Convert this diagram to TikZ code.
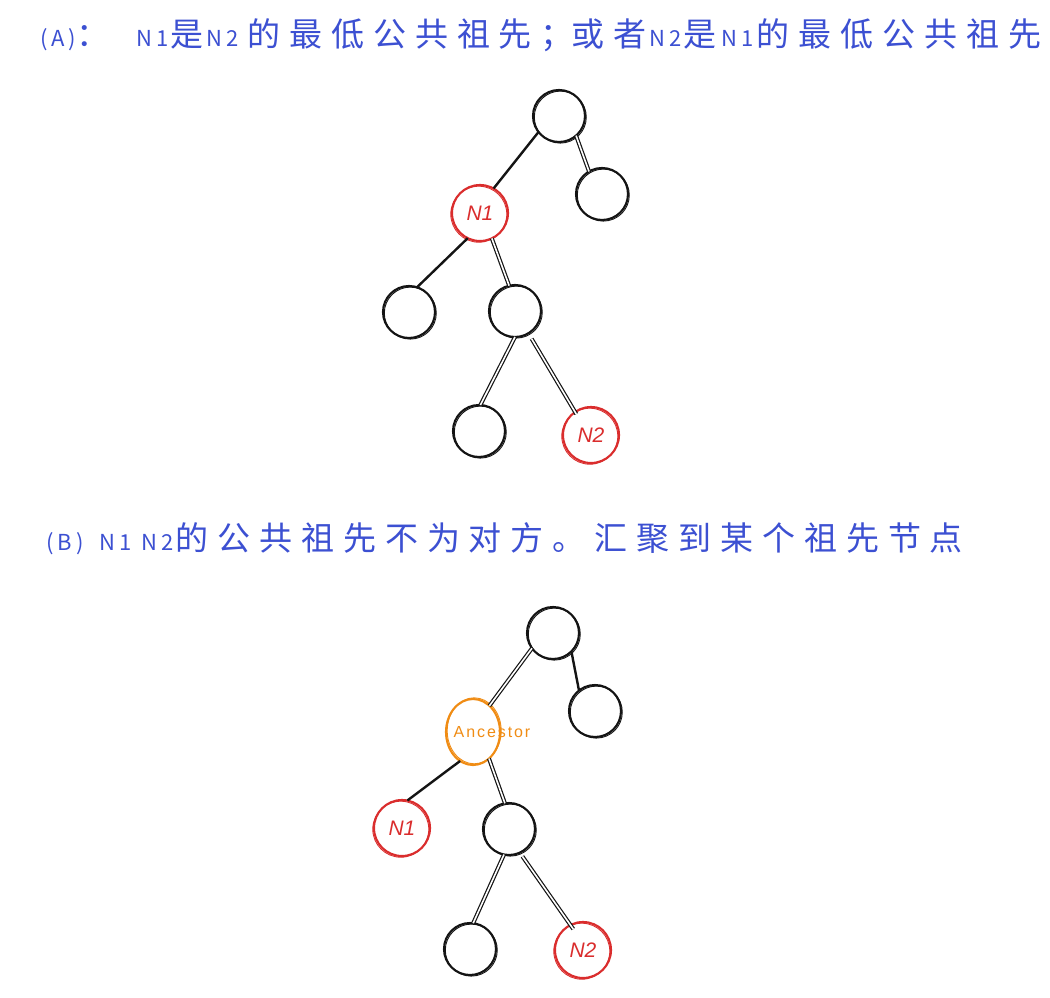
\documentclass[tikz,border=0pt]{standalone}
\usepackage{fontspec}
\usetikzlibrary{shapes.geometric}
\newfontfamily\cjk[LetterSpace=27]{Noto Sans CJK SC}
\newfontfamily\lat[LetterSpace=18]{Noto Sans CJK SC}
\newfontfamily\hand{Liberation Sans}
\newfontfamily\handsp[LetterSpace=12]{Liberation Sans}
\newcommand{\CJ}[1]{{\fontsize{33}{33}\selectfont\cjk #1}}
\newcommand{\LT}[1]{{\fontsize{22}{22}\selectfont\lat #1}}
\definecolor{tblue}{RGB}{60,80,210}
\definecolor{nred}{RGB}{218,45,45}
\definecolor{norange}{RGB}{240,140,20}
\definecolor{ink}{RGB}{20,20,20}
\tikzset{
  tnode/.style={circle, draw=ink, line width=2.1pt, minimum size=52pt, inner sep=0pt, outer sep=0pt,
    postaction={draw=ink, line width=0.9pt, transform canvas={xshift=1.3pt, yshift=-1.1pt}}},
  rednode/.style={circle, draw=nred, line width=2.1pt, minimum size=56pt, inner sep=0pt, outer sep=0pt, text=nred,
    font=\fontsize{21}{21}\selectfont\hand\itshape,
    postaction={draw=nred, line width=0.9pt, transform canvas={xshift=-1.2pt, yshift=-1.2pt}}},
  ancnode/.style={ellipse, draw=norange, line width=2.1pt, minimum width=54pt, minimum height=66pt, inner sep=0pt, outer sep=0pt,
    postaction={draw=norange, line width=0.9pt, transform canvas={xshift=1.2pt, yshift=1.2pt}}},
  anctext/.style={text=norange, font=\fontsize{16}{16}\selectfont\handsp, inner sep=0pt},
  single/.style={draw=ink, line width=2.4pt},
  twin/.style={draw=ink, line width=1.2pt, double=white, double distance=1.6pt},
  title/.style={text=tblue, anchor=base west, inner sep=0pt},
}
\begin{document}
\begin{tikzpicture}[x=1pt,y=-1pt]
\fill[white] (0,0) rectangle (1050,998);
\useasboundingbox (0,0) rectangle (1050,998);

% titles
\node[title] (ta) at (40,47) {\LT{(A)}\CJ{：}\hspace{27pt}\LT{N1}\hspace{2pt}\CJ{是}\hspace{3pt}\LT{N2}\hspace{9pt}\CJ{的最低公共祖先；}\hspace{-2pt}\CJ{或者}\hspace{3pt}\LT{N2}\hspace{2pt}\CJ{是}\hspace{5pt}\LT{N1}\hspace{3pt}\CJ{的最低公共祖先}};
\node[title] (tb) at (46,550) {\LT{(B)}\hspace{16pt}\LT{N1}\hspace{10pt}\LT{N2}\hspace{2pt}\CJ{的公共祖先不为对方。汇聚到某个祖先节点}};

% tree A
\node[tnode] (ar) at (559,116) {};
\node[tnode] (arr) at (602,194) {};
\node[rednode] (an1) at (480,213) {N1};
\node[tnode] (al) at (409,312) {};
\node[tnode] (am) at (515,311) {};
\node[tnode] (abl) at (479,431) {};
\node[rednode] (an2) at (591,435) {N2};

\draw[single] (ar.218) -- (an1.61);
\draw[twin] (ar.311) -- (arr.120);
\draw[single] (an1.244) -- (al.72);
\draw[twin] (an1.295) -- (am.103);
\draw[twin] (am.270) -- (abl.87);
\draw[twin] ([shift={(4pt,-5pt)}]am.299) -- ([shift={(-2pt,-4pt)}]an2.117);

% tree B
\node[tnode] (br) at (553,633) {};
\node[tnode] (brr) at (595,711) {};
\node[ancnode] (anc) at (473,732) {};
\node[anctext] (anct) at (492,732) {Ancestor};
\node[rednode] (bn1) at (402,828) {N1};
\node[tnode] (bm) at (509,829) {};
\node[tnode] (bbl) at (470,949) {};
\node[rednode] (bn2) at (583,950) {N2};

\draw[twin] (br.216) -- (anc.58);
\draw[single] (br.315) -- (brr.128);
\draw[single] (anc.246) -- (bn1.79);
\draw[twin] (anc.301) -- (bm.99);
\draw[twin] (bm.259) -- (bbl.83);
\draw[twin] ([shift={(2pt,-4pt)}]bm.296) -- ([shift={(-2pt,-6pt)}]bn2.106);
\end{tikzpicture}
\end{document}
